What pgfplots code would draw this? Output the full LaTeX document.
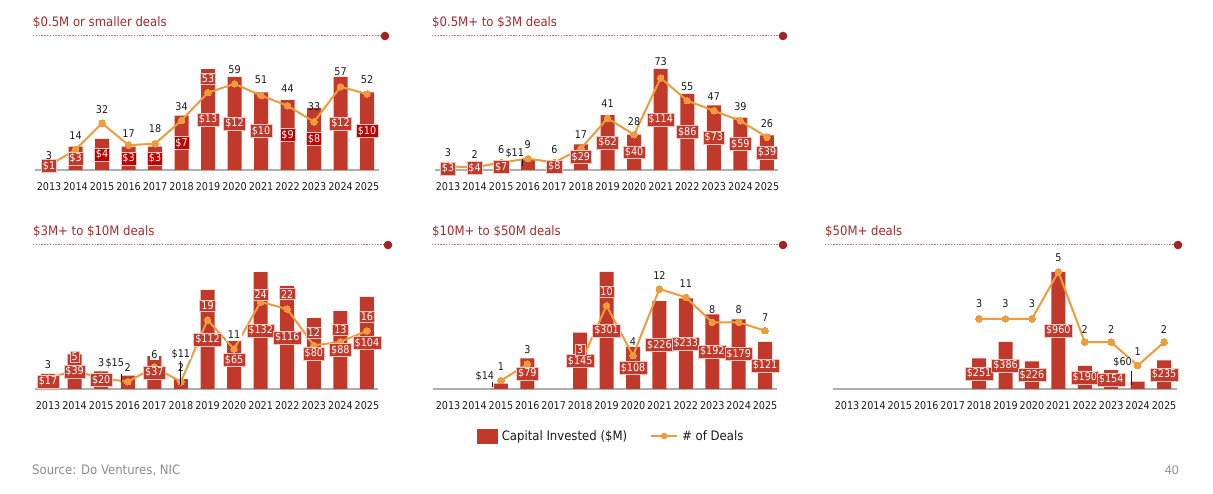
\documentclass[border=0pt]{standalone}
\usepackage{fontspec}
\setmainfont{DejaVu Sans Condensed}
\newfontfamily\pagenumfont{Liberation Sans}
\usepackage{pgfplots}
\pgfplotsset{compat=1.18}
\usepackage{pgfplotstable}

\definecolor{barred}{RGB}{192,57,43}
\definecolor{darkred}{RGB}{192,0,0}
\definecolor{dealor}{RGB}{238,155,62}
\definecolor{titlered}{RGB}{165,42,42}
\definecolor{rulered}{RGB}{200,110,110}
\definecolor{dotred}{RGB}{160,35,37}
\definecolor{basegray}{RGB}{175,175,175}
\definecolor{srcgray}{RGB}{140,140,140}
\definecolor{txt}{RGB}{26,26,26}
\definecolor{lbledge}{RGB}{240,200,195}

% columns: year index, capital ($M), deal count,
% cs  = capital label style (0 on bar, 1 dark box, 2 outside), cdx/cdy offset (pt)
% ds  = deal label style (0 plain, 1 on bar, 2 white box), ddy extra offset (pt)
\pgfplotstableread{
idx cap deals cs cdx cdy ds ddy
0 1 3 0 0 0 0 -4
1 3 14 0 0 0 0 0
2 4 32 1 0 0 0 0
3 3 17 1 0 0 0 -2
4 3 18 1 0 0 0 1
5 7 34 1 0 0 0 0
6 13 53 0 0 0 1 0
7 12 59 0 0 0 0 0
8 10 51 0 0 0 0 2
9 9 44 1 0 0 0 3
10 8 33 1 0 0 0 1
11 12 57 0 0 0 0 1
12 10 52 1 0 0 0 0
}\pone

\pgfplotstableread{
idx cap deals cs cdx cdy ds ddy
0 3 3 0 0 0 0 0
1 4 2 0 0 0 0 -1
2 7 6 0 0 0 0 -1
3 11 9 2 -13 12 0 0
4 8 6 0 0 0 0 -1
5 29 17 0 0 0 0 0
6 62 41 0 0 0 0 1
7 40 28 0 0 0 0 -1
8 114 73 0 0 0 0 2
9 86 55 0 0 0 0 0
10 73 47 0 0 0 0 0
11 59 39 0 0 0 0 0
12 39 26 0 0 0 0 0
}\ptwo

\pgfplotstableread{
idx cap deals cs cdx cdy ds ddy
0 17 3 0 0 0 0 -1
1 39 5 0 0 0 1 0
2 20 3 0 0 0 0 1
3 15 2 2 -13 19 0 0
4 37 6 0 0 0 2 -1
5 11 2 2 0 30 0 0
6 112 19 0 0 0 1 0
7 65 11 0 0 0 2 0
8 132 24 0 0 0 1 -7
9 116 22 0 0 0 1 1
10 80 12 0 0 0 1 -1
11 88 13 0 0 0 1 -2
12 104 16 0 0 0 1 0
}\pthree

\pgfplotstableread{
idx cap deals cs cdx cdy ds ddy
0 nan nan 0 0 0 0 0
1 nan nan 0 0 0 0 0
2 14 1 2 -16 10 0 0
3 79 3 0 0 0 0 0
4 nan nan 0 0 0 0 0
5 145 3 0 0 0 1 0
6 301 10 0 0 0 1 0
7 108 4 0 0 0 0 0
8 226 12 0 0 0 0 0
9 233 11 0 0 0 0 0
10 192 8 0 0 0 0 -1
11 179 8 0 0 0 0 -1
12 121 7 0 0 0 0 -1
}\pfour

\pgfplotstableread{
idx cap deals cs cdx cdy ds ddy
0 nan nan 0 0 0 0 0
1 nan nan 0 0 0 0 0
2 nan nan 0 0 0 0 0
3 nan nan 0 0 0 0 0
4 nan nan 0 0 0 0 0
5 251 3 0 0 0 0 1
6 386 3 0 0 0 0 1
7 226 3 0 0 0 0 1
8 960 5 0 0 0 0 0
9 190 2 0 0 0 0 -1
10 154 2 0 0 0 0 -1
11 60 1 2 -15 23 0 0
12 235 2 0 0 0 0 -1
}\pfive

\pgfplotsset{
  panelbase/.style={anchor=south west, scale only axis, clip=false,
    enlargelimits=false, axis line style={draw=none}, major tick length=0pt,
    xtick=\empty, ytick=\empty, ymin=0, unbounded coords=jump},
  yearticks/.style={xtick={0,...,12},
    xticklabels={2013,2014,2015,2016,2017,2018,2019,2020,2021,2022,2023,2024,2025},
    xticklabel style={anchor=center, yshift=-17pt, inner sep=0pt,
      font=\fontsize{10.7}{12}\selectfont, text=txt}},
  % panel geometry: position of the lower-left corner, year spacing
  g1/.style={at={(35pt,324pt)}, x=26.5pt, xmin=-0.53, xmax=12.45},
  g2/.style={at={(435pt,324pt)}, x=26.58pt, xmin=-0.49, xmax=12.41},
  g3/.style={at={(35pt,105pt)}, x=26.58pt, xmin=-0.49, xmax=12.41},
  g4/.style={at={(433pt,105pt)}, x=26.42pt, xmin=-0.57, xmax=12.45},
  g5/.style={at={(833pt,105pt)}, x=26.42pt, xmin=-0.53, xmax=12.49},
  % capital scales
  b1/.style={y=7.75pt, ymax=16},
  b2/.style={y=0.886pt, ymax=130},
  b3/.style={y=0.886pt, ymax=140},
  b4/.style={y=0.389pt, ymax=320},
  b5/.style={y=0.122pt, ymax=1000},
  % deal-count scales
  d1/.style={y=1.46pt, ymax=85},
  d2/.style={y=1.26pt, ymax=90},
  d3/.style={y=3.63pt, ymax=32},
  d4/.style={y=8.33pt, ymax=14},
  d5/.style={y=23.4pt, ymax=5.5},
  dealline/.style={dealor, line width=2pt, mark=*, mark size=3.3pt,
    mark options={fill=dealor, draw=dealor, line width=0pt}},
  lblbase/.style={draw=none, mark=none, point meta=explicit symbolic,
    every node near coord/.append style={anchor=center, line width=0.6pt,
      inner xsep=1.6pt, inner ysep=1.6pt, font=\fontsize{10.7}{12}\selectfont}},
  caplab/.style={lblbase, nodes near coords={\$\pgfplotspointmeta},
    visualization depends on={\thisrow{cdx}\as\cdx},
    visualization depends on={\thisrow{cdy}\as\cdy},
    every node near coord/.append style={xshift=\cdx pt, yshift=\cdy pt},
    restrict expr to domain={\thisrow{cs}}{#1:#1}},
  capin/.style={caplab=0, every node near coord/.append style={fill=barred, draw=lbledge, text=white}},
  capdark/.style={caplab=1, every node near coord/.append style={fill=darkred, draw=lbledge, text=white}},
  capout/.style={caplab=2, every node near coord/.append style={fill=white, text=txt, inner sep=0.5pt}},
  deallab/.style={lblbase, nodes near coords={\pgfplotspointmeta},
    visualization depends on={\thisrow{ddy}\as\ddy},
    every node near coord/.append style={yshift=14pt, yshift=\ddy pt},
    restrict expr to domain={\thisrow{ds}}{#1:#1}},
  dealout/.style={deallab=0, every node near coord/.append style={text=txt}},
  dealin/.style={deallab=1, every node near coord/.append style={fill=barred, draw=lbledge, text=white}},
  dealwhite/.style={deallab=2, every node near coord/.append style={fill=white, text=txt}},
}

% one panel: bars, deal line, capital labels, deal labels
\newcommand\dealpanel[5]{%
  \begin{axis}[panelbase, yearticks, #2, #3, ybar, bar width=14pt]
    \draw[basegray, line width=1.8pt] (rel axis cs:0,0) -- (rel axis cs:1,0);
    \addplot[fill=barred, draw=none] table[x=idx, y=cap]{#1};
  \end{axis}
  \begin{axis}[panelbase, #2, #4]
    \addplot[dealline] table[x=idx, y=deals]{#1};
  \end{axis}
  \begin{axis}[panelbase, #2, #3]
    #5
    \addplot[capin] table[x=idx, y expr=\thisrow{cap}/2, meta=cap]{#1};
    \addplot[capdark] table[x=idx, y expr=\thisrow{cap}/2, meta=cap]{#1};
    \addplot[capout] table[x=idx, y expr=\thisrow{cap}/2, meta=cap]{#1};
  \end{axis}
  \begin{axis}[panelbase, #2, #4]
    \addplot[dealout] table[x=idx, y=deals, meta=deals]{#1};
    \addplot[dealin] table[x=idx, y=deals, meta=deals]{#1};
    \addplot[dealwhite] table[x=idx, y=deals, meta=deals]{#1};
  \end{axis}}

\newcommand\paneltitle[5]{% x, title baseline, text, rule y, rule end x
  \node[anchor=base west, inner sep=0pt, text=titlered,
    font=\fontsize{13}{15}\selectfont] at (#1pt,#2pt) {#3};
  \draw[rulered, line width=1pt, dash pattern=on 1.4pt off 1.4pt]
    (#1pt,#4pt) -- (#5pt,#4pt);
  \fill[dotred] (#5pt,#4pt) circle (4.3pt);}

\begin{document}
\begin{tikzpicture}
\useasboundingbox (0,0) rectangle (1213pt,494pt);

\paneltitle{33}{467}{\$0.5M or smaller deals}{458}{385}
\paneltitle{432}{467}{\$0.5M+ to \$3M deals}{458}{783}
\paneltitle{33}{258.5}{\$3M+ to \$10M deals}{249}{388}
\paneltitle{432}{258.5}{\$10M+ to \$50M deals}{249}{783}
\paneltitle{825}{258.5}{\$50M+ deals}{249}{1178}

\dealpanel{\pone}{g1}{b1}{d1}{}
\dealpanel{\ptwo}{g2}{b2}{d2}{%
  \draw[txt, line width=0.9pt] ([xshift=-5pt,yshift=4pt]axis cs:3,0) -- ++(0pt,7pt);}
\dealpanel{\pthree}{g3}{b3}{d3}{%
  \draw[txt, line width=0.9pt] ([xshift=-6pt,yshift=7pt]axis cs:3,0) -- ++(0pt,8pt);
  \draw[txt, line width=0.9pt] ([yshift=4pt]axis cs:5,0) -- ++(0pt,24pt);}
\dealpanel{\pfour}{g4}{b4}{d4}{%
  \draw[txt, line width=0.9pt] ([xshift=-8pt,yshift=2pt]axis cs:2,0) -- ++(0pt,5pt);}
\dealpanel{\pfive}{g5}{b5}{d5}{%
  \draw[txt, line width=0.9pt] ([xshift=-6pt,yshift=4pt]axis cs:11,0) -- ++(0pt,14pt);}

% shared legend
\begin{axis}[at={(611pt,58pt)}, anchor=center, hide axis, scale only axis,
  width=10pt, height=10pt, xmin=0, xmax=1, ymin=0, ymax=1,
  legend columns=2, legend cell align=left,
  legend style={at={(0.5,0.5)}, anchor=center, draw=none, fill=none,
    font=\fontsize{13}{15}\selectfont, text=txt,
    /tikz/every even column/.append style={column sep=21pt}}]
  \addlegendimage{legend image code/.code={\fill[barred] (0pt,-7pt) rectangle (20pt,7pt);
    \path[draw=none, fill=none] (0pt,0pt) -- (23pt,0pt);}}
  \addlegendentry{Capital Invested (\$M)}
  \addlegendimage{legend image code/.code={\draw[dealor, line width=2pt] (0pt,0pt) -- (26pt,0pt);
    \fill[dealor] (13pt,0pt) circle (3pt); \path[draw=none, fill=none] (0pt,0pt) -- (29pt,0pt);}}
  \addlegendentry{\# of Deals}
\end{axis}

\node[anchor=base west, inner sep=0pt, text=srcgray, font=\fontsize{13}{15}\selectfont]
  at (32pt,19pt) {Source: Do Ventures, NIC};
\node[anchor=base east, inner sep=0pt, text=srcgray, font=\pagenumfont\fontsize{12.5}{15}\selectfont]
  at (1179pt,19pt) {40};
\end{tikzpicture}
\end{document}
